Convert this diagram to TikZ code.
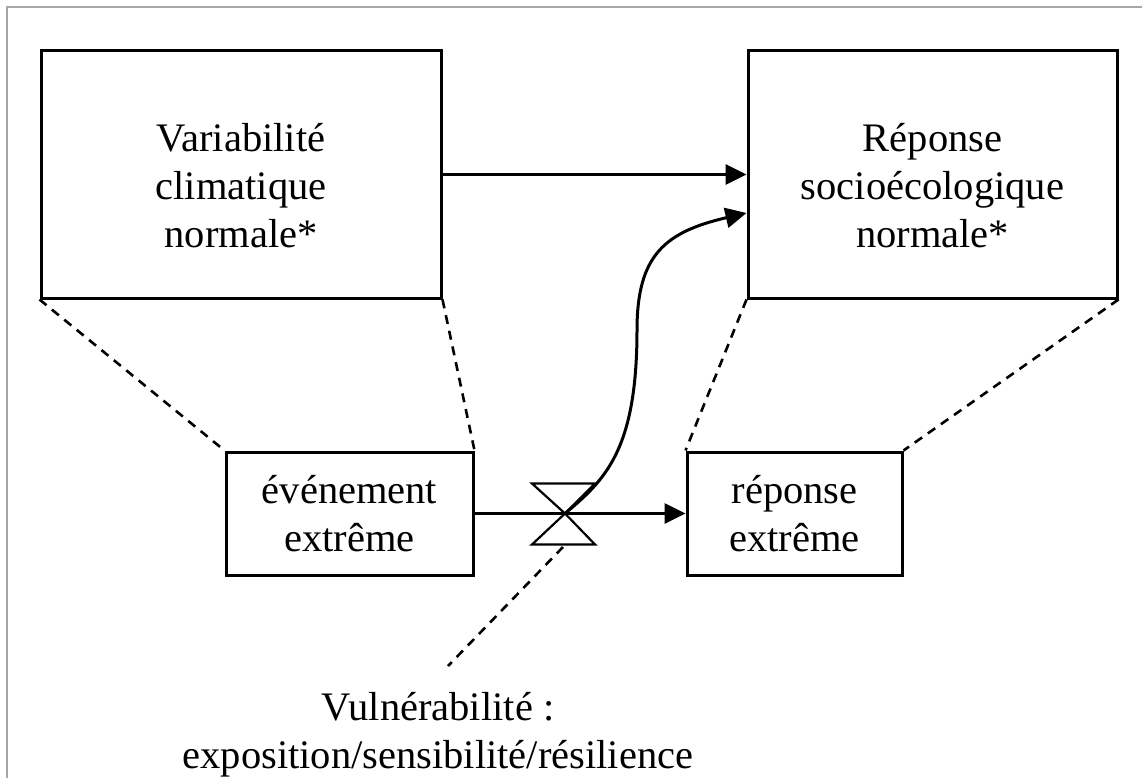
\documentclass[tikz,border=0pt]{standalone}
\usepackage{fontspec}
\setmainfont{Liberation Serif}
\usetikzlibrary{arrows.meta}
\newcommand{\bxt}[2]{\raisebox{#1}[0pt][0pt]{\begin{tabular}[t]{@{}c@{}}#2\end{tabular}}}
\tikzset{
  boxnode/.style={draw, line width=3pt, inner sep=0pt, font=\fontsize{40.5}{48}\selectfont},
  plain/.style={inner sep=0pt, font=\fontsize{40.5}{48}\selectfont},
  arr/.style={line width=3pt, -{Triangle[length=21pt,width=20pt]}},
  dsh/.style={line width=2.6pt, dash pattern=on 9pt off 7pt},
  hgl/.style={line width=2.2pt, line join=miter},
  frm/.style={line width=1.2pt, draw=gray!70}
}
\begin{document}
\begin{tikzpicture}[x=1pt,y=-1pt]
\useasboundingbox (0,0) rectangle (1142,778);
% frame
\draw[frm] (7,778) -- (7,7) -- (1142,7);
% boxes
\node[boxnode, minimum width=400pt, minimum height=247pt] (lb) at (241,174.5)
  {\bxt{22.5pt}{Variabilité\\climatique\\normale*}};
\node[boxnode, minimum width=369pt, minimum height=247pt] (rb) at (932.5,174.5)
  {\bxt{22.5pt}{Réponse\\socioécologique\\normale*}};
\node[boxnode, minimum width=247pt, minimum height=123pt] (le) at (349.5,513.5)
  {\bxt{10pt}{événement\\extrême}};
\node[boxnode, minimum width=215pt, minimum height=123pt] (re) at (794.5,513.5)
  {\bxt{10pt}{réponse\\extrême}};
\node[plain] (vul) at (438,720) {\bxt{0pt}{Vulnérabilité :\\exposition/sensibilité/résilience}};
% hourglass
\coordinate (hg) at (565,513.5);
\coordinate (hgb) at (563,547);
\coordinate (vtop) at (448,666);
% dashed links
\draw[dsh] (lb.south west) -- (le.north west);
\draw[dsh] (lb.south east) -- (le.north east);
\draw[dsh] (rb.south west) -- (re.north west);
\draw[dsh] (rb.south east) -- (re.north east);
\draw[dsh] (hgb) -- (vtop);
% arrows
\draw[arr] (lb.east) -- (rb.west);
\draw[arr] (le.east) -- (re.west);
\draw[arr] (hg) .. controls (605,480) and (637,450) .. (637,330)
  .. controls (637,255) and (665,232) .. ([yshift=-38.5pt]rb.west);
\draw[hgl] (hg) -- ++(-33,-30) -- ++(63,0) -- cycle
           (hg) -- ++(-33,31) -- ++(63,0) -- cycle;
\end{tikzpicture}
\end{document}
